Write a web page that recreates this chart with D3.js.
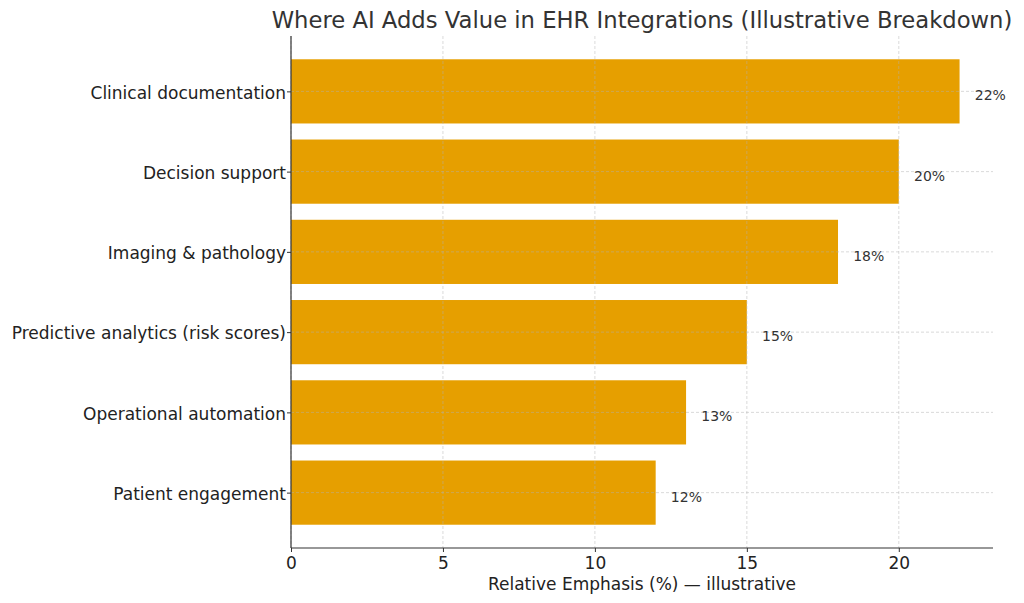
<!DOCTYPE html>
<html><head><meta charset="utf-8">
<script src="https://cdn.jsdelivr.net/npm/d3@7"></script>
<style>body{margin:0;background:#fff}svg{display:block}text{font-family:"DejaVu Sans",sans-serif}</style>
</head><body><svg id="c" width="1024" height="603"></svg>
<script>
const categories = ["Clinical documentation","Decision support","Imaging & pathology","Predictive analytics (risk scores)","Operational automation","Patient engagement"];
const values = [22,20,18,15,13,12];
const xTicks = [0,5,10,15,20];
const title = "Where AI Adds Value in EHR Integrations (Illustrative Breakdown)";
const xLabel = "Relative Emphasis (%) — illustrative";

const svg = d3.select("#c");
const L=291, R=993, T=36, B=548;
const x = d3.scaleLinear().domain([0, 23.1]).range([L, R]);
const y = d3.scaleLinear().domain([-0.69, 5.69]).range([T, B]);
const bh = y(0.8) - y(0);

svg.selectAll("rect.bar").data(values).join("rect")
  .attr("x", x(0)).attr("y", (d,i)=>y(i-0.4))
  .attr("width", d=>x(d)-x(0)).attr("height", bh)
  .attr("fill","#E69F00");

const g = svg.append("g");
g.selectAll("line.vg").data(xTicks).join("line")
  .attr("x1",d=>x(d)).attr("x2",d=>x(d)).attr("y1",T).attr("y2",B)
  .attr("stroke","#b0b0b0").attr("stroke-opacity",0.6).attr("stroke-dasharray","3,2").attr("stroke-width",0.8);
g.selectAll("line.hg").data(categories).join("line")
  .attr("x1",L).attr("x2",R).attr("y1",(d,i)=>y(i)).attr("y2",(d,i)=>y(i))
  .attr("stroke","#b0b0b0").attr("stroke-opacity",0.6).attr("stroke-dasharray","3,2").attr("stroke-width",0.8);

const xa = svg.append("g").attr("transform",`translate(0,${B})`)
  .call(d3.axisBottom(x).tickValues(xTicks).tickSize(4).tickPadding(5).tickFormat(d3.format("d")));
xa.select(".domain").remove();
xa.selectAll("line").attr("stroke","#333");
xa.selectAll("text").attr("font-size","17px").attr("fill","#222").attr("font-family","DejaVu Sans");

const ya = svg.append("g").attr("transform",`translate(${L},0)`)
  .call(d3.axisLeft(y).tickValues(d3.range(categories.length)).tickSize(4).tickPadding(1).tickFormat(i=>categories[i]));
ya.select(".domain").remove();
ya.selectAll("line").attr("stroke","#333");
ya.selectAll("text").attr("font-size","17px").attr("fill","#222").attr("font-family","DejaVu Sans").attr("dy","0.4em");

svg.append("line").attr("x1",L).attr("x2",L).attr("y1",T).attr("y2",B).attr("stroke","#333").attr("stroke-width",1.2);
svg.append("line").attr("x1",L).attr("x2",R).attr("y1",B).attr("y2",B).attr("stroke","#333").attr("stroke-width",1.2);

svg.selectAll("text.val").data(values).join("text")
  .attr("x", d=>x(d+0.5)).attr("y",(d,i)=>y(i)+4)
  .attr("dominant-baseline","central")
  .attr("font-size","14px").attr("fill","#333")
  .text(d=>d+"%");

svg.append("text").attr("x",(L+R)/2).attr("y",28).attr("text-anchor","middle")
  .attr("font-size","22.7px").attr("fill","#333").text(title);
svg.append("text").attr("x",(L+R)/2).attr("y",590).attr("text-anchor","middle")
  .attr("font-size","17px").attr("fill","#222").text(xLabel);
</script></body></html>
